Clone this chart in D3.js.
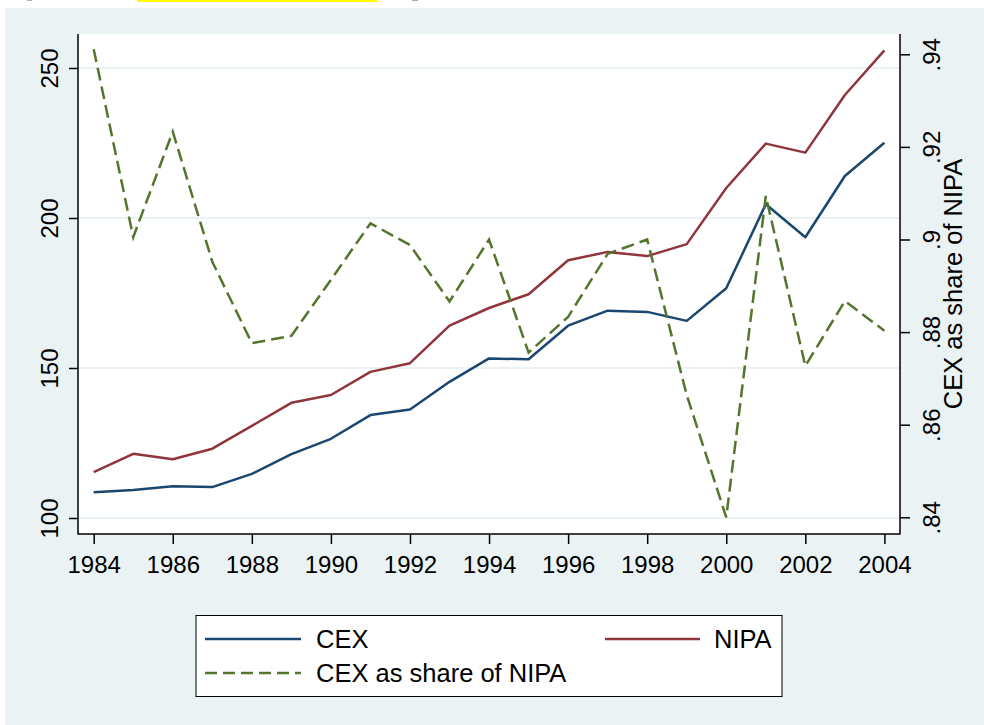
<!DOCTYPE html>
<html>
<head>
<meta charset="utf-8">
<script src="https://cdn.jsdelivr.net/npm/d3@7"></script>
<style>
  html, body { margin: 0; padding: 0; background: #ffffff; }
  svg { display: block; font-family: "Liberation Sans", Arial, Helvetica, sans-serif; }
</style>
</head>
<body>
<svg id="chart" width="984" height="725"></svg>
<script>
// Consumer expenditure: CEX survey vs NIPA, and their ratio
const years = [1984, 1985, 1986, 1987, 1988, 1989, 1990, 1991, 1992, 1993, 1994,
               1995, 1996, 1997, 1998, 1999, 2000, 2001, 2002, 2003, 2004];
const cex = [108.6, 109.3, 110.6, 110.3, 114.7, 121.3, 126.4, 134.3, 136.2, 145.4, 153.2,
             152.9, 164.1, 169.1, 168.7, 165.7, 176.6, 204.6, 193.6, 214.0, 225.1];
const nipa = [115.3, 121.4, 119.6, 123.1, 130.7, 138.4, 141.0, 148.7, 151.6, 164.1, 170.0,
              174.6, 185.9, 188.7, 187.3, 191.3, 210.0, 224.8, 221.8, 241.0, 255.9];
const share = [.9411, .9005, .9233, .8952, .8776, .8792, .8913, .9035, .8988, .8866, .9000,
               .8756, .8833, .8969, .9000, .8664, .8400, .9094, .8727, .8867, .8803];
const xTicks = [1984, 1986, 1988, 1990, 1992, 1994, 1996, 1998, 2000, 2002, 2004];
const leftTicks = [100, 150, 200, 250];
const rightTicks = [.84, .86, .88, .9, .92, .94];
const rightTickLabels = [".84", ".86", ".88", ".9", ".92", ".94"];
const rightTitle = "CEX as share of NIPA";
const seriesNames = ["CEX", "NIPA", "CEX as share of NIPA"];

const colors = { cex: "#1a476f", nipa: "#90353b", share: "#55752f" };
const bg = "#eaf2f3";
const tickFont = 24;
const textFont = 25.5;

const svg = d3.select("#chart");

// plot region bounds
const L = 78, R = 900, T = 34, B = 534;

// page strip above the graph
svg.append("rect").attr("x", 0).attr("y", 0).attr("width", 984).attr("height", 725).attr("fill", "#ffffff");
svg.append("rect").attr("x", 137).attr("y", 0).attr("width", 240).attr("height", 2).attr("fill", "#ffff00");
svg.append("rect").attr("x", 27).attr("y", 0).attr("width", 5).attr("height", 1).attr("fill", "#b0b0b0");
svg.append("rect").attr("x", 412).attr("y", 0).attr("width", 6).attr("height", 1).attr("fill", "#b0b0b0");

// graph region
svg.append("rect").attr("x", 5).attr("y", 8).attr("width", 979).attr("height", 717).attr("fill", bg);
// plot region
svg.append("rect").attr("x", L).attr("y", T).attr("width", R - L).attr("height", B - T).attr("fill", "#ffffff");

const x = d3.scaleLinear().domain([1984, 2004]).range([93.7, 884.4]);
const yL = d3.scaleLinear().domain([100, 250]).range([518, 68]);
const yR = d3.scaleLinear().domain([.84, .94]).range([517.3, 54.3]);

// gridlines on the left axis ticks
svg.append("g").selectAll("line").data(leftTicks).join("line")
  .attr("x1", L).attr("x2", R)
  .attr("y1", d => yL(d)).attr("y2", d => yL(d))
  .attr("stroke", bg).attr("stroke-width", 2);

// series
const lineL = (vals) => d3.line().x((d, i) => x(years[i])).y(d => yL(d))(vals);
const lineR = d3.line().x((d, i) => x(years[i])).y(d => yR(d));

svg.append("path").attr("d", lineL(cex)).attr("fill", "none")
  .attr("stroke", colors.cex).attr("stroke-width", 2.5).attr("stroke-linejoin", "round");
svg.append("path").attr("d", lineL(nipa)).attr("fill", "none")
  .attr("stroke", colors.nipa).attr("stroke-width", 2.5).attr("stroke-linejoin", "round");
svg.append("path").attr("d", lineR(share)).attr("fill", "none")
  .attr("stroke", colors.share).attr("stroke-width", 2.5).attr("stroke-dasharray", "13,6");

// axes
const axisColor = "#000000";
// left axis
const gL = svg.append("g").attr("transform", `translate(${L},0)`);
gL.call(d3.axisLeft(yL).tickValues(leftTicks).tickSize(9).tickFormat(d3.format("d")));
gL.select(".domain").remove();
gL.append("line").attr("x1", 0).attr("x2", 0).attr("y1", T).attr("y2", B + 0.5)
  .attr("stroke", axisColor).attr("stroke-width", 1.5);
gL.selectAll(".tick line").attr("stroke", axisColor).attr("stroke-width", 1.5);
gL.selectAll(".tick text")
  .attr("x", 0).attr("y", 0).attr("dy", 0)
  .attr("transform", "translate(-20,0) rotate(-90)")
  .attr("text-anchor", "middle")
  .attr("font-size", tickFont).attr("font-family", null).attr("fill", "#000");

// right axis
const gR = svg.append("g").attr("transform", `translate(${R},0)`);
gR.call(d3.axisRight(yR).tickValues(rightTicks).tickSize(10)
  .tickFormat((d, i) => rightTickLabels[i]));
gR.select(".domain").remove();
gR.append("line").attr("x1", 0).attr("x2", 0).attr("y1", T).attr("y2", B + 0.5)
  .attr("stroke", axisColor).attr("stroke-width", 1.5);
gR.selectAll(".tick line").attr("stroke", axisColor).attr("stroke-width", 1.5);
gR.selectAll(".tick text")
  .attr("x", 0).attr("y", 0).attr("dy", 0)
  .attr("transform", "translate(40,0) rotate(-90)")
  .attr("text-anchor", "middle")
  .attr("font-size", tickFont).attr("font-family", null).attr("fill", "#000");
svg.append("text")
  .attr("transform", `translate(962,${(T + B) / 2}) rotate(-90)`)
  .attr("text-anchor", "middle")
  .attr("font-size", textFont).attr("fill", "#000")
  .text(rightTitle);

// bottom axis
const gB = svg.append("g").attr("transform", `translate(0,${B})`);
gB.call(d3.axisBottom(x).tickValues(xTicks).tickSize(10).tickFormat(d3.format("d")));
gB.select(".domain").remove();
gB.append("line").attr("x1", L).attr("x2", R).attr("y1", 0).attr("y2", 0)
  .attr("stroke", axisColor).attr("stroke-width", 1.5);
gB.selectAll(".tick line").attr("stroke", axisColor).attr("stroke-width", 1.5);
gB.selectAll(".tick text")
  .attr("y", 39).attr("dy", 0)
  .attr("font-size", tickFont).attr("font-family", null).attr("fill", "#000");

// legend
const leg = svg.append("g");
leg.append("rect").attr("x", 196).attr("y", 615.5).attr("width", 586).attr("height", 81)
  .attr("fill", "#ffffff").attr("stroke", "#000").attr("stroke-width", 1);
const legItems = [
  { name: seriesNames[0], color: colors.cex, dash: null, x1: 205, x2: 301, tx: 316, y: 639 },
  { name: seriesNames[1], color: colors.nipa, dash: null, x1: 605, x2: 700, tx: 714, y: 639 },
  { name: seriesNames[2], color: colors.share, dash: "12,6", x1: 205, x2: 301, tx: 316, y: 673 }
];
legItems.forEach(it => {
  leg.append("line").attr("x1", it.x1).attr("x2", it.x2).attr("y1", it.y).attr("y2", it.y)
    .attr("stroke", it.color).attr("stroke-width", 2.5)
    .attr("stroke-dasharray", it.dash);
  leg.append("text").attr("x", it.tx).attr("y", it.y + 9)
    .attr("font-size", textFont).attr("fill", "#000").text(it.name);
});
</script>
</body>
</html>
